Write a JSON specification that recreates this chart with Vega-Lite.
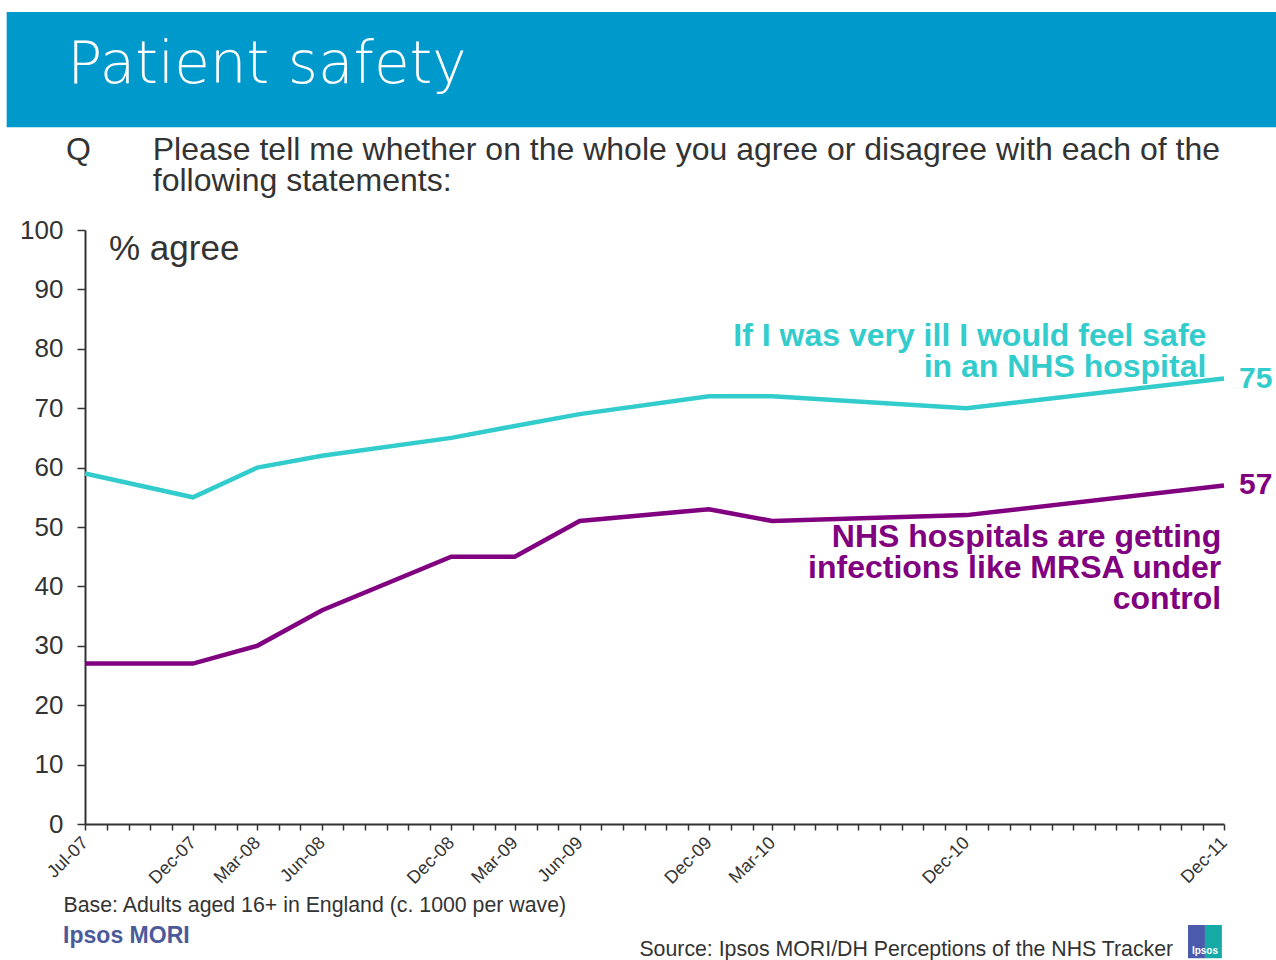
{
  "$schema": "https://vega.github.io/schema/vega-lite/v6.json",
  "width": 1139,
  "height": 594,
  "autosize": {"type": "none"},
  "padding": {"left": 85, "top": 230, "right": 52, "bottom": 136},
  "background": "white",
  "config": {"font": "Liberation Sans", "view": {"stroke": null}},
  "data": {
    "format": {"parse": {"date": "date"}},
    "values": [
      {"date": "2007-07-01", "series": "If I was very ill I would feel safe in an NHS hospital", "value": 59},
      {"date": "2007-12-01", "series": "If I was very ill I would feel safe in an NHS hospital", "value": 55},
      {"date": "2008-03-01", "series": "If I was very ill I would feel safe in an NHS hospital", "value": 60},
      {"date": "2008-06-01", "series": "If I was very ill I would feel safe in an NHS hospital", "value": 62},
      {"date": "2008-12-01", "series": "If I was very ill I would feel safe in an NHS hospital", "value": 65},
      {"date": "2009-03-01", "series": "If I was very ill I would feel safe in an NHS hospital", "value": 67},
      {"date": "2009-06-01", "series": "If I was very ill I would feel safe in an NHS hospital", "value": 69},
      {"date": "2009-12-01", "series": "If I was very ill I would feel safe in an NHS hospital", "value": 72},
      {"date": "2010-03-01", "series": "If I was very ill I would feel safe in an NHS hospital", "value": 72},
      {"date": "2010-12-01", "series": "If I was very ill I would feel safe in an NHS hospital", "value": 70},
      {"date": "2011-12-01", "series": "If I was very ill I would feel safe in an NHS hospital", "value": 75},
      {"date": "2007-07-01", "series": "NHS hospitals are getting infections like MRSA under control", "value": 27},
      {"date": "2007-12-01", "series": "NHS hospitals are getting infections like MRSA under control", "value": 27},
      {"date": "2008-03-01", "series": "NHS hospitals are getting infections like MRSA under control", "value": 30},
      {"date": "2008-06-01", "series": "NHS hospitals are getting infections like MRSA under control", "value": 36},
      {"date": "2008-12-01", "series": "NHS hospitals are getting infections like MRSA under control", "value": 45},
      {"date": "2009-03-01", "series": "NHS hospitals are getting infections like MRSA under control", "value": 45},
      {"date": "2009-06-01", "series": "NHS hospitals are getting infections like MRSA under control", "value": 51},
      {"date": "2009-12-01", "series": "NHS hospitals are getting infections like MRSA under control", "value": 53},
      {"date": "2010-03-01", "series": "NHS hospitals are getting infections like MRSA under control", "value": 51},
      {"date": "2010-12-01", "series": "NHS hospitals are getting infections like MRSA under control", "value": 52},
      {"date": "2011-12-01", "series": "NHS hospitals are getting infections like MRSA under control", "value": 57}
    ]
  },
  "layer": [
    {
      "data": {"values": [{}]},
      "mark": {"type": "rect", "color": "#0099CC"},
      "encoding": {
        "x": {"datum": {"year": 2007, "month": 3, "date": 12, "utc": true}, "type": "temporal"},
        "x2": {"datum": {"year": 2012, "month": 2, "date": 25, "utc": true}},
        "y": {"datum": 136.7, "type": "quantitative"},
        "y2": {"datum": 117.3}
      }
    },
    {
      "data": {"values": [{}]},
      "mark": {"type": "text", "text": "Patient safety", "align": "left", "baseline": "alphabetic", "fontSize": 58, "font": "DejaVu Sans", "fontWeight": 200, "color": "white"},
      "encoding": {
        "x": {"datum": {"year": 2007, "month": 6, "date": 6, "utc": true}, "type": "temporal"},
        "y": {"datum": 124.7, "type": "quantitative"}
      }
    },
    {
      "data": {"values": [{}]},
      "mark": {"type": "text", "text": "Q", "align": "left", "baseline": "alphabetic", "fontSize": 32, "color": "#333333"},
      "encoding": {
        "x": {"datum": {"year": 2007, "month": 6, "date": 4, "utc": true}, "type": "temporal"},
        "y": {"datum": 111.8, "type": "quantitative"}
      }
    },
    {
      "data": {"values": [{}]},
      "mark": {"type": "text", "text": ["Please tell me whether on the whole you agree or disagree with each of the", "following statements:"], "align": "left", "baseline": "alphabetic", "fontSize": 32, "lineHeight": 31, "color": "#333333"},
      "encoding": {
        "x": {"datum": {"year": 2007, "month": 10, "date": 5, "utc": true}, "type": "temporal"},
        "y": {"datum": 111.8, "type": "quantitative"}
      }
    },
    {
      "mark": {"type": "line", "strokeWidth": 4.5},
      "encoding": {
        "x": {
          "field": "date",
          "type": "temporal",
          "scale": {"type": "utc", "domain": [{"year": 2007, "month": 7, "date": 1, "utc": true}, {"year": 2011, "month": 12, "date": 1, "utc": true}], "nice": false},
          "axis": {
            "title": "Base: Adults aged 16+ in England (c. 1000 per wave)",
            "titleX": -22,
            "titleY": 87,
            "titleAnchor": "start",
            "titleAlign": "left",
            "titleBaseline": "alphabetic",
            "titleFontSize": 21.3,
            "titleFontWeight": "normal",
            "titleColor": "#333333",
            "tickCount": {"interval": "month", "step": 1},
            "labelExpr": "indexof(['Jul-07','Dec-07','Mar-08','Jun-08','Dec-08','Mar-09','Jun-09','Dec-09','Mar-10','Dec-10','Dec-11'], utcFormat(datum.value, '%b-%y')) >= 0 ? utcFormat(datum.value, '%b-%y') : ''",
            "labelAngle": -45,
            "labelAlign": "right",
            "labelBaseline": "middle",
            "labelFontSize": 18,
            "labelColor": "#333333",
            "labelPadding": 10,
            "labelOverlap": false,
            "labelFlush": false,
            "labelBound": false,
            "domainColor": "#333333",
            "domainWidth": 2,
            "tickColor": "#333333",
            "tickWidth": 1.5,
            "tickSize": 6,
            "grid": false
          }
        },
        "y": {
          "field": "value",
          "type": "quantitative",
          "scale": {"domain": [0, 100], "nice": false, "zero": false},
          "axis": {
            "title": null,
            "values": [0, 10, 20, 30, 40, 50, 60, 70, 80, 90, 100],
            "labelFontSize": 26,
            "labelColor": "#333333",
            "labelPadding": 14,
            "tickSize": 8,
            "tickColor": "#333333",
            "tickWidth": 1.5,
            "domainColor": "#333333",
            "domainWidth": 2,
            "grid": false
          }
        },
        "color": {
          "field": "series",
          "type": "nominal",
          "scale": {"domain": ["If I was very ill I would feel safe in an NHS hospital", "NHS hospitals are getting infections like MRSA under control"], "range": ["#33CCCC", "#800080"]},
          "legend": null
        }
      }
    },
    {
      "transform": [{"filter": "utcyear(datum.date) == 2011"}],
      "mark": {"type": "text", "align": "left", "baseline": "middle", "dx": 15, "fontSize": 30, "fontWeight": "bold"},
      "encoding": {
        "x": {"field": "date", "type": "temporal"},
        "y": {"field": "value", "type": "quantitative"},
        "text": {"field": "value", "type": "quantitative"},
        "color": {"field": "series", "type": "nominal", "legend": null}
      }
    },
    {
      "data": {"values": [{}]},
      "mark": {"type": "text", "text": "% agree", "align": "left", "baseline": "alphabetic", "fontSize": 35, "color": "#333333"},
      "encoding": {
        "x": {"datum": {"year": 2007, "month": 8, "date": 4, "utc": true}, "type": "temporal"},
        "y": {"datum": 95, "type": "quantitative"}
      }
    },
    {
      "data": {"values": [{}]},
      "mark": {"type": "text", "text": ["If I was very ill I would feel safe", "in an NHS hospital"], "align": "right", "baseline": "alphabetic", "fontSize": 32, "fontWeight": "bold", "lineHeight": 31, "color": "#33CCCC"},
      "encoding": {
        "x": {"datum": {"year": 2011, "month": 11, "date": 6, "utc": true}, "type": "temporal"},
        "y": {"datum": 80.4, "type": "quantitative"}
      }
    },
    {
      "data": {"values": [{}]},
      "mark": {"type": "text", "text": ["NHS hospitals are getting", "infections like MRSA under", "control"], "align": "right", "baseline": "alphabetic", "fontSize": 32, "fontWeight": "bold", "lineHeight": 31, "color": "#800080"},
      "encoding": {
        "x": {"datum": {"year": 2011, "month": 11, "date": 27, "utc": true}, "type": "temporal"},
        "y": {"datum": 46.6, "type": "quantitative"}
      }
    },
    {
      "data": {"values": [{}]},
      "mark": {"type": "text", "text": "Ipsos MORI", "align": "left", "baseline": "alphabetic", "fontSize": 23, "font": "Liberation Sans", "fontWeight": "bold", "color": "#4B5A9B"},
      "encoding": {
        "x": {"datum": {"year": 2007, "month": 5, "date": 31, "utc": true}, "type": "temporal"},
        "y": {"datum": -20.0, "type": "quantitative"}
      }
    },
    {
      "data": {"values": [{}]},
      "mark": {"type": "text", "text": "Source: Ipsos MORI/DH Perceptions of the NHS Tracker", "align": "right", "baseline": "alphabetic", "fontSize": 21.3, "color": "#333333"},
      "encoding": {
        "x": {"datum": {"year": 2011, "month": 9, "date": 20, "utc": true}, "type": "temporal"},
        "y": {"datum": -22.2, "type": "quantitative"}
      }
    },
    {
      "data": {"values": [{}]},
      "mark": {"type": "rect", "color": "#4B5AAA"},
      "encoding": {
        "x": {"datum": {"year": 2011, "month": 10, "date": 11, "utc": true}, "type": "temporal"},
        "x2": {"datum": {"year": 2011, "month": 11, "date": 4, "utc": true}},
        "y": {"datum": -17.0, "type": "quantitative"},
        "y2": {"datum": -22.6}
      }
    },
    {
      "data": {"values": [{}]},
      "mark": {"type": "rect", "color": "#16AAA6"},
      "encoding": {
        "x": {"datum": {"year": 2011, "month": 11, "date": 4, "utc": true}, "type": "temporal"},
        "x2": {"datum": {"year": 2011, "month": 11, "date": 28, "utc": true}},
        "y": {"datum": -17.0, "type": "quantitative"},
        "y2": {"datum": -22.6}
      }
    },
    {
      "data": {"values": [{}]},
      "mark": {"type": "text", "text": "Ipsos", "align": "center", "baseline": "alphabetic", "fontSize": 10, "fontWeight": "bold", "color": "white"},
      "encoding": {
        "x": {"datum": {"year": 2011, "month": 11, "date": 4, "utc": true}, "type": "temporal"},
        "y": {"datum": -21.9, "type": "quantitative"}
      }
    }
  ]
}
